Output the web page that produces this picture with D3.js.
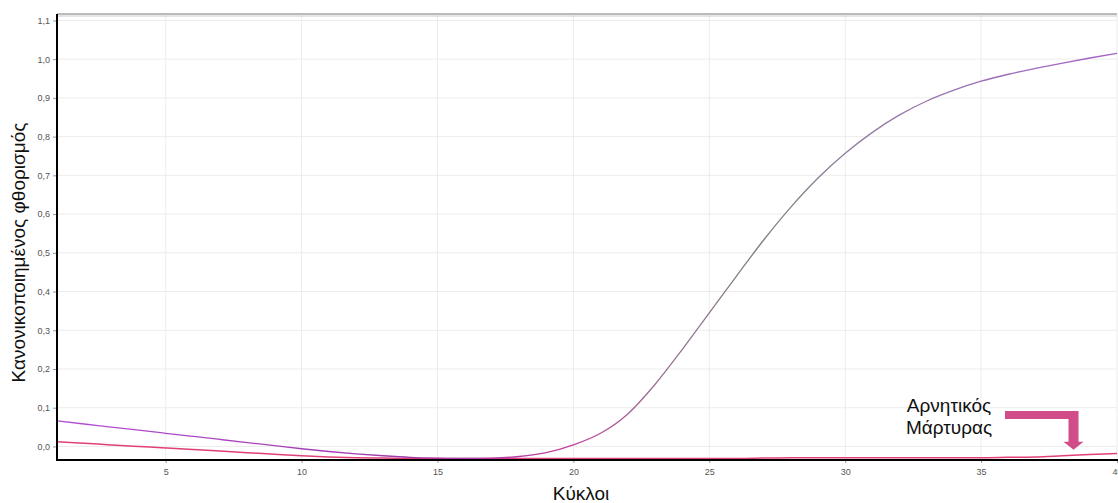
<!DOCTYPE html>
<html>
<head>
<meta charset="utf-8">
<script src="https://cdn.jsdelivr.net/npm/d3@7"></script>
<style>
  html, body { margin: 0; padding: 0; background: #fff; }
  svg { display: block; }
</style>
</head>
<body>
<svg id="chart" width="1118" height="503"></svg>
<script>
// Amplification curves: normalized fluorescence per cycle
const cycles = d3.range(1, 41);
const positiveSample = [
  0.066, 0.058, 0.050, 0.042, 0.034, 0.026, 0.018, 0.010, 0.002, -0.006,
  -0.013, -0.019, -0.024, -0.028, -0.030, -0.031, -0.030, -0.026, -0.016, 0.004,
  0.034, 0.084, 0.160, 0.250, 0.345, 0.440, 0.533, 0.618, 0.693, 0.757,
  0.811, 0.856, 0.892, 0.920, 0.943, 0.961, 0.976, 0.990, 1.003, 1.015
];
const negativeControl = [
  0.012, 0.008, 0.004, 0.000, -0.004, -0.008, -0.012, -0.016, -0.020, -0.024,
  -0.027, -0.029, -0.030, -0.031, -0.031, -0.031, -0.031, -0.031, -0.031, -0.031,
  -0.031, -0.031, -0.031, -0.031, -0.031, -0.031, -0.030, -0.029, -0.029, -0.029,
  -0.029, -0.029, -0.029, -0.029, -0.029, -0.028, -0.027, -0.024, -0.021, -0.018
];
const xTicks = [5, 10, 15, 20, 25, 30, 35, 40];
const yTicks = [0.0, 0.1, 0.2, 0.3, 0.4, 0.5, 0.6, 0.7, 0.8, 0.9, 1.0, 1.1];
const xTitle = "Κύκλοι";
const yTitle = "Κανονικοποιημένος φθορισμός";
const annotationLines = ["Αρνητικός", "Μάρτυρας"];
const annotationCycle = 38.4;

const svg = d3.select("#chart");
const font = "'Liberation Sans', Arial, sans-serif";

const plot = { left: 57, right: 1117, top: 15, bottom: 460 };
const x = d3.scaleLinear().domain([1, 40]).range([plot.left, plot.right]);
const y = d3.scaleLinear().domain([-0.035, 1.114]).range([plot.bottom, plot.top]);

// grid
const grid = svg.append("g");
grid.selectAll("line.h").data(yTicks).join("line")
  .attr("x1", plot.left).attr("x2", plot.right)
  .attr("y1", d => y(d)).attr("y2", d => y(d))
  .attr("stroke", "#ececec").attr("stroke-width", 1);
grid.selectAll("line.v").data(xTicks).join("line")
  .attr("x1", d => x(d)).attr("x2", d => x(d))
  .attr("y1", plot.top).attr("y2", plot.bottom)
  .attr("stroke", "#ececec").attr("stroke-width", 1);

// top frame
svg.append("line").attr("x1", plot.left).attr("x2", plot.right)
  .attr("y1", plot.top - 1).attr("y2", plot.top - 1)
  .attr("stroke", "#777").attr("stroke-width", 1);
svg.append("line").attr("x1", plot.left).attr("x2", plot.right)
  .attr("y1", plot.top + 1).attr("y2", plot.top + 1)
  .attr("stroke", "#ccc").attr("stroke-width", 1);

// axes
const yAxis = d3.axisLeft(y).tickValues(yTicks).tickSize(4).tickPadding(3)
  .tickFormat(d => d3.format(".1f")(d).replace(".", ","));
const gy = svg.append("g").attr("transform", `translate(${plot.left},0)`).call(yAxis);
gy.select(".domain").remove();
gy.selectAll(".tick line").attr("stroke", "#999");
gy.selectAll(".tick text").attr("fill", "#555").style("font", `9px ${font}`);

const xAxis = d3.axisBottom(x).tickValues(xTicks).tickSize(3).tickPadding(6);
const gx = svg.append("g").attr("transform", `translate(0,${plot.bottom})`).call(xAxis);
gx.select(".domain").remove();
gx.selectAll(".tick line").attr("stroke", "#999");
gx.selectAll(".tick text").attr("fill", "#555").style("font", `9px ${font}`);

// curve colour shifts along the positive amplification curve
const defs = svg.append("defs");
const grad = defs.append("linearGradient").attr("id", "posGrad")
  .attr("gradientUnits", "userSpaceOnUse")
  .attr("x1", x(1)).attr("x2", x(40)).attr("y1", 0).attr("y2", 0);
[[1, "#b24fd6"], [14, "#a03aa8"], [20, "#c2409c"], [23, "#9a7096"], [27, "#808080"], [31, "#957aa6"], [40, "#a462c8"]]
  .forEach(([c, col]) => grad.append("stop").attr("offset", (c - 1) / 39).attr("stop-color", col));

const line = d3.line().x((d, i) => x(cycles[i])).y(d => y(d)).curve(d3.curveMonotoneX);

svg.append("path").datum(negativeControl)
  .attr("d", line).attr("fill", "none")
  .attr("stroke", "#e0407a").attr("stroke-width", 1.5);
svg.append("path").datum(positiveSample)
  .attr("d", line).attr("fill", "none")
  .attr("stroke", "url(#posGrad)").attr("stroke-width", 1.3);

// left and bottom axis lines
svg.append("line").attr("x1", plot.left).attr("x2", plot.left)
  .attr("y1", plot.top - 1).attr("y2", plot.bottom + 1)
  .attr("stroke", "#000").attr("stroke-width", 2);
svg.append("line").attr("x1", plot.left).attr("x2", plot.right + 1)
  .attr("y1", plot.bottom).attr("y2", plot.bottom)
  .attr("stroke", "#000").attr("stroke-width", 2);

// axis titles
svg.append("text").attr("x", 581).attr("y", 500)
  .attr("text-anchor", "middle").attr("fill", "#111")
  .style("font", `19px ${font}`).text(xTitle);
svg.append("text")
  .attr("transform", `translate(25,${(117 + 388) / 2}) rotate(-90)`)
  .attr("text-anchor", "middle").attr("fill", "#111")
  .style("font", `19px ${font}`).text(yTitle);

// negative control annotation with bent arrow
const ann = svg.append("g");
ann.selectAll("text").data(annotationLines).join("text")
  .attr("x", 949).attr("y", (d, i) => 412 + i * 22)
  .attr("text-anchor", "middle").attr("fill", "#111")
  .style("font", `19px ${font}`).text(d => d);

const ax = x(annotationCycle);
const tipY = y(negativeControl[Math.round(annotationCycle) - 1]) - 6;
const arrow = d3.path();
arrow.moveTo(1005, 411);
arrow.lineTo(ax + 5, 411);
arrow.lineTo(ax + 5, tipY - 8);
arrow.lineTo(ax + 10, tipY - 8);
arrow.lineTo(ax, tipY);
arrow.lineTo(ax - 10, tipY - 8);
arrow.lineTo(ax - 5, tipY - 8);
arrow.lineTo(ax - 5, 419);
arrow.lineTo(1005, 419);
arrow.closePath();
ann.append("path").attr("d", arrow.toString()).attr("fill", "#d04d8a");
</script>
</body>
</html>
